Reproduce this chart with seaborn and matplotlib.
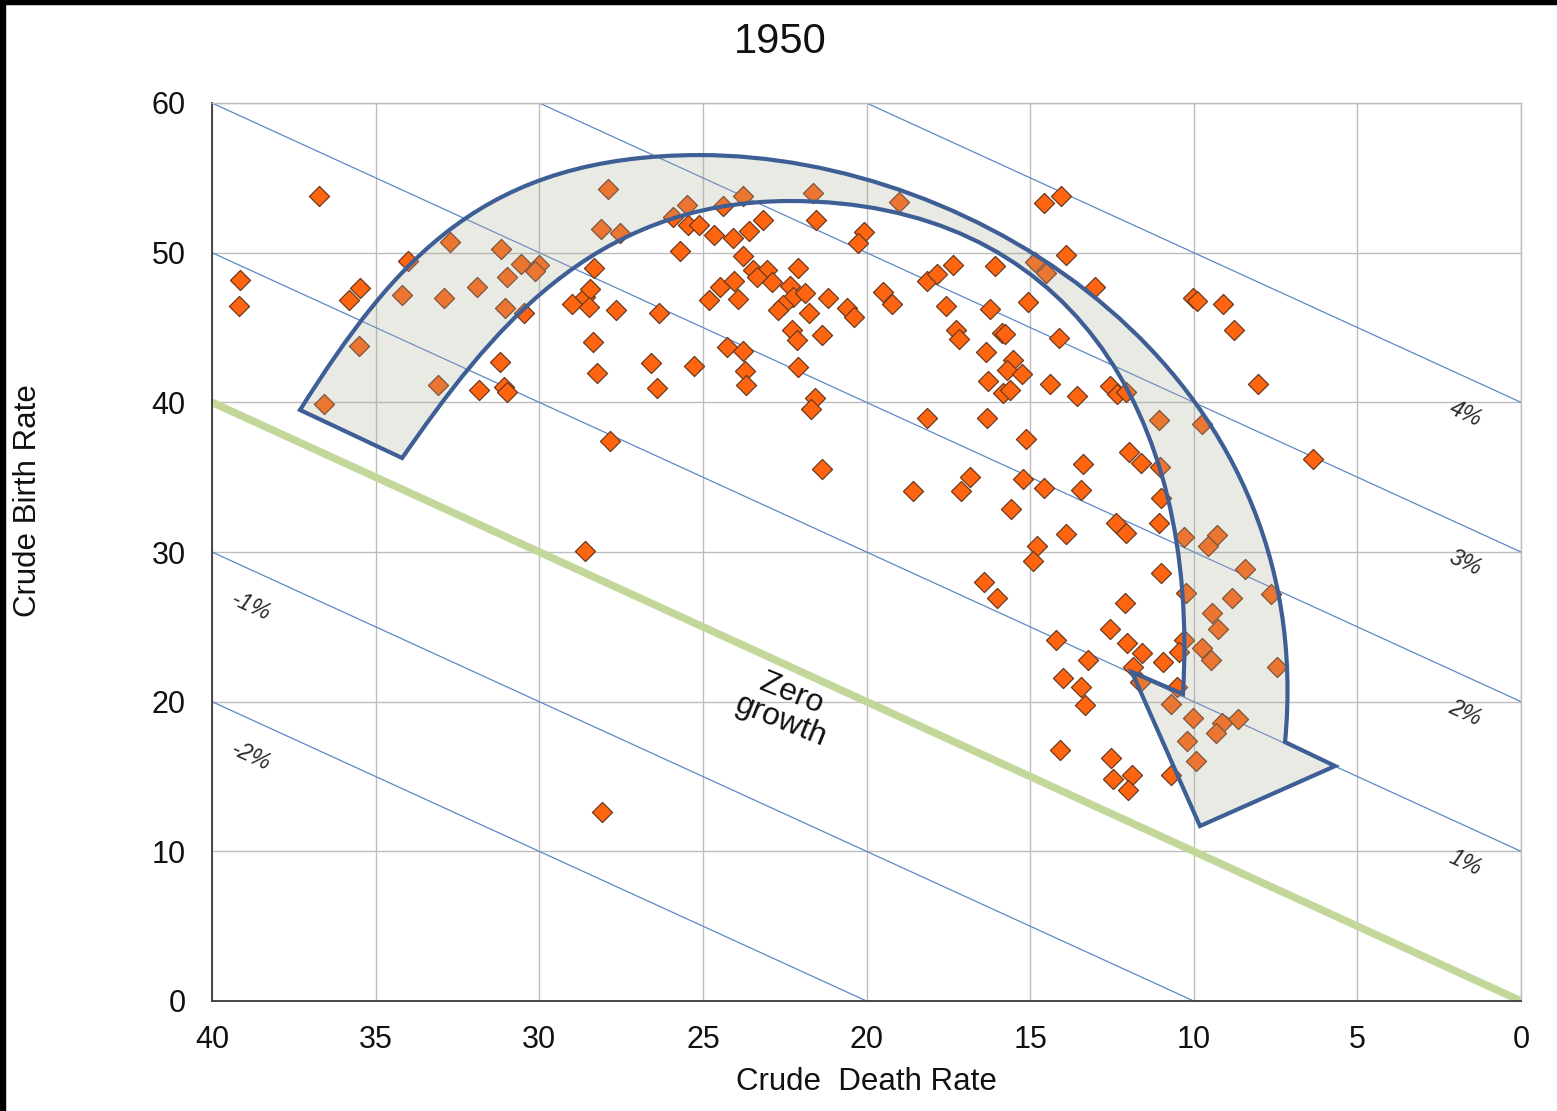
import matplotlib
matplotlib.use("Agg")
import pandas as pd
import matplotlib.pyplot as plt
from matplotlib.path import Path
from matplotlib.patches import PathPatch, Rectangle
import seaborn as sns

# Crude death rate / crude birth rate (per 1000), 1950, one point per country
death_rate = [
    39.13, 39.18, 36.74, 36.57, 35.47, 35.82, 35.52, 34.02, 34.19, 33.09,
    32.90, 32.74, 31.90, 31.85, 31.17, 31.19, 31.09, 30.99, 31.04, 30.99,
    30.57, 30.47, 30.00, 30.13, 29.00, 28.60, 28.45, 28.47, 28.33, 28.37,
    28.23, 27.89, 28.12, 27.53, 27.65, 26.60, 26.39, 26.33, 25.90, 25.48,
    25.45, 25.11, 25.70, 25.26, 27.84, 28.60, 28.09, 24.38, 23.76, 24.65,
    24.07, 23.59, 23.15, 23.76, 24.48, 24.04, 24.81, 23.94, 23.46, 23.05,
    22.90, 23.36, 24.25, 23.76, 23.71, 23.68, 22.34, 22.24, 22.54, 22.70,
    22.08, 22.29, 22.13, 22.10, 21.64, 21.54, 21.88, 21.19, 21.76, 21.35,
    21.57, 21.70, 21.35, 20.08, 20.25, 20.61, 20.38, 19.00, 19.49, 19.23,
    18.16, 17.86, 17.35, 16.06, 17.58, 16.24, 15.07, 17.25, 17.16, 15.87,
    15.77, 16.35, 15.51, 15.70, 15.24, 16.28, 15.82, 15.62, 18.14, 16.33,
    18.57, 16.84, 17.12, 15.13, 15.57, 15.23, 16.40, 16.02, 14.57, 14.07,
    13.90, 14.85, 14.52, 14.11, 14.39, 13.56, 13.02, 14.57, 13.39, 13.46,
    13.90, 14.80, 14.90, 14.22, 13.24, 14.00, 13.46, 13.32, 14.09, 12.56,
    12.35, 12.07, 11.06, 11.99, 11.61, 11.03, 11.00, 12.38, 12.08, 11.05,
    10.31, 11.00, 10.24, 12.10, 12.56, 10.31, 10.45, 12.05, 11.59, 10.93,
    11.85, 11.64, 10.52, 10.68, 10.03, 10.22, 9.93, 12.54, 12.46, 11.88,
    12.00, 10.68, 10.01, 9.91, 9.10, 8.77, 8.05, 9.76, 6.35, 9.28,
    9.55, 8.43, 8.82, 7.65, 9.43, 9.27, 9.76, 9.48, 7.47, 8.64,
    9.15, 9.32,
]
birth_rate = [
    48.17, 46.43, 53.78, 39.87, 47.62, 46.84, 43.76, 49.46, 47.17, 41.16,
    46.95, 50.69, 47.68, 40.82, 50.24, 42.67, 41.05, 40.71, 46.28, 48.40,
    49.24, 45.95, 49.20, 48.80, 46.55, 47.06, 47.55, 46.39, 49.00, 44.05,
    41.94, 54.25, 51.58, 51.33, 46.20, 42.60, 40.98, 45.95, 52.40, 53.20,
    51.85, 51.87, 50.10, 42.43, 37.42, 30.07, 12.65, 53.10, 53.80, 51.20,
    50.96, 51.45, 52.20, 49.80, 47.73, 48.10, 46.84, 46.90, 48.84, 48.84,
    48.06, 48.40, 43.72, 43.45, 42.11, 41.16, 47.77, 47.06, 46.50, 46.17,
    48.95, 44.83, 44.16, 42.38, 53.96, 52.18, 47.28, 46.95, 45.95, 44.50,
    40.27, 39.53, 35.55, 51.40, 50.67, 46.28, 45.68, 53.40, 47.39, 46.57,
    48.10, 48.55, 49.17, 49.10, 46.43, 46.21, 46.68, 44.83, 44.21, 44.65,
    44.56, 43.38, 42.83, 42.16, 41.90, 41.45, 40.60, 40.82, 38.93, 38.93,
    34.10, 34.99, 34.10, 37.55, 32.87, 34.86, 28.02, 26.91, 53.30, 53.79,
    49.84, 49.40, 48.66, 44.32, 41.20, 40.44, 47.68, 34.26, 35.86, 34.14,
    31.20, 30.40, 29.42, 24.12, 22.78, 21.56, 21.00, 19.78, 16.77, 41.11,
    40.56, 40.67, 38.80, 36.70, 35.97, 35.70, 33.63, 31.92, 31.25, 31.92,
    30.98, 28.58, 27.28, 26.57, 24.83, 24.12, 23.34, 23.90, 23.23, 22.63,
    22.34, 21.34, 21.00, 19.82, 18.89, 17.39, 16.06, 16.22, 14.81, 15.10,
    14.10, 15.10, 46.99, 46.77, 46.57, 44.83, 41.20, 38.55, 36.20, 31.14,
    30.40, 28.86, 26.91, 27.17, 25.90, 24.83, 23.60, 22.78, 22.30, 18.84,
    18.55, 17.93,
]

# natural growth lines: birth - death (per 1000) and their labels
growth_offsets = [-20, -10, 10, 20, 30, 40]
growth_labels = ["-2%", "-1%", "1%", "2%", "3%", "4%"]

x_ticks = [40, 35, 30, 25, 20, 15, 10, 5, 0]
y_ticks = [0, 10, 20, 30, 40, 50, 60]

df = pd.DataFrame({"death": death_rate, "birth": birth_rate})

sns.set_theme(style="white")
plt.rcParams["font.family"] = ["Liberation Sans", "DejaVu Sans"]

fig = plt.figure(figsize=(15.57, 11.11), dpi=100)
ax = fig.add_axes([212 / 1557, 110 / 1111, 1309 / 1557, 898 / 1111])

# growth reference lines
for c in growth_offsets:
    ax.axline((0, c), slope=1, color="#5f88c6", lw=0.9, zorder=1.5)
ax.axline((0, 0), slope=1, color="#c3d79b", lw=5.5, zorder=1.6, solid_capstyle="butt")

sns.scatterplot(data=df, x="death", y="birth", marker="D", s=105,
                color="#ff6410", edgecolor="#6b3a1f", linewidth=0.9,
                zorder=3, ax=ax, legend=False)

ax.set_xlim(40, 0)
ax.set_ylim(0, 60)
ax.set_xticks(x_ticks)
ax.set_yticks(y_ticks)
ax.grid(True, color="#bdbdbd", lw=1.0)
ax.set_axisbelow(True)
ax.set_xlabel("")
ax.set_ylabel("")
for side in ["top", "right"]:
    ax.spines[side].set_color("#bdbdbd")
    ax.spines[side].set_linewidth(1.0)
for side in ["left", "bottom"]:
    ax.spines[side].set_color("#3a3a3a")
    ax.spines[side].set_linewidth(1.3)
ax.tick_params(axis="both", direction="out", length=7, width=1.2, color="#3a3a3a",
               labelsize=22, labelcolor="#111111")
ax.tick_params(axis="y", pad=12)
ax.tick_params(axis="x", pad=10)

# growth % labels, just below each line
for c, lab in zip(growth_offsets, growth_labels):
    lx = 38.8 if c < 0 else 1.7
    ax.text(lx, lx + c - 2.45, lab, fontsize=16.5, style="italic", color="#2a2a2a",
            rotation=-24.6, ha="center", va="center", zorder=5)

ax.text(22.46, 19.6, "Zero\ngrowth", fontsize=23, color="#111111", rotation=-22,
        ha="center", va="center", linespacing=1.0, zorder=5)

# curved arrow (annotation shape, data coordinates)
verts = [
    (37.31, 39.49),
    (34.38, 49.64), (31.66, 56.52), (25.09, 56.52),
    (16.68, 56.52), (6.14, 42.16), (7.21, 17.30),
    (5.68, 15.70),
    (9.81, 11.69),
    (11.89, 21.98),
    (10.33, 20.51),
    (9.81, 39.62), (13.93, 53.45), (22.34, 53.45),
    (28.45, 53.45), (31.57, 44.50), (34.19, 36.28),
    (37.31, 39.49),
]
codes = ([Path.MOVETO] + [Path.CURVE4] * 6 + [Path.LINETO] * 4
         + [Path.CURVE4] * 6 + [Path.CLOSEPOLY])
arrow = PathPatch(Path(verts, codes), facecolor=(0.68, 0.68, 0.60, 0.25),
                  edgecolor="#3d5f95", lw=3.0, joinstyle="miter", zorder=4)
ax.add_patch(arrow)

fig.text(780 / 1557, 1 - 42 / 1111, "1950", fontsize=30, color="#111111",
         ha="center", va="center")
fig.text(866 / 1557, 1 - 1082 / 1111, "Crude  Death Rate", fontsize=22.5,
         color="#111111", ha="center", va="center")
fig.text(28 / 1557, 1 - 501 / 1111, "Crude Birth Rate", fontsize=22.5,
         color="#111111", ha="center", va="center", rotation=90)

# dark frame of the screenshot
fig.patches.append(Rectangle((0, 0), 5 / 1557, 1, transform=fig.transFigure,
                             color="black", zorder=10))
fig.patches.append(Rectangle((0, 1 - 4 / 1111), 1, 4 / 1111, transform=fig.transFigure,
                             color="black", zorder=10))

fig.savefig("out.png", dpi=100)
